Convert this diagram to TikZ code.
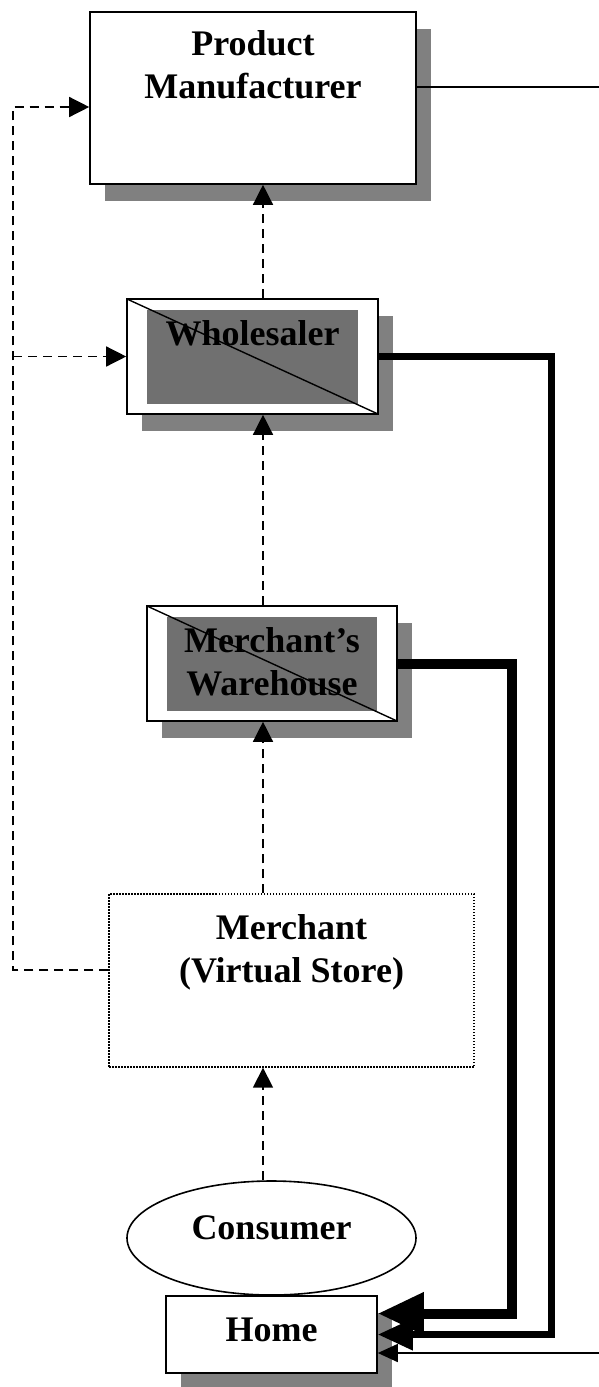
\documentclass[tikz,border=0pt]{standalone}
\usepackage{fontspec}
\setmainfont{Liberation Serif}
\usetikzlibrary{arrows.meta,shadows,shapes.geometric}

\definecolor{shadowgray}{gray}{0.5}
\definecolor{innergray}{gray}{0.44}

\tikzset{
  lbl/.style={font=\fontsize{36}{43}\selectfont\bfseries, align=center, inner sep=0pt},
  box/.style={draw, line width=1.6pt, fill=white, inner sep=0pt},
  shadowed/.style={drop shadow={shadow xshift=15pt, shadow yshift=-17pt, fill=shadowgray, opacity=1}},
  stockbox/.style={box, shadowed,
    path picture={
      \fill[innergray] ([shift={(20,11)}]path picture bounding box.north west)
        rectangle ([shift={(-20,-10)}]path picture bounding box.south east);
      \draw[line width=1.4pt] (path picture bounding box.north west)
        -- (path picture bounding box.south east);
    }},
  dashline/.style={line width=1.4pt, dash pattern=on 9pt off 6pt,
    -{Triangle[length=20pt,width=20pt]}},
  goodsline/.style={line width=#1, line join=miter},
}

\begin{document}
\begin{tikzpicture}[x=1pt,y=-1pt]
  \useasboundingbox (0,0) rectangle (599,1387);

  % boxes
  \node[box, shadowed, minimum width=326pt, minimum height=172pt,
    label={[lbl,name=manutxt,yshift=33pt]center:Product\\Manufacturer}] (manu) at (253,98) {};
  \node[stockbox, minimum width=251pt, minimum height=115pt,
    label={[lbl,name=wholetxt,yshift=23.5pt]center:Wholesaler}] (whole) at (252.5,356.5) {};
  \node[stockbox, minimum width=250pt, minimum height=115pt,
    label={[lbl,name=waretxt,yshift=2pt]center:Merchant’s\\Warehouse}] (ware) at (272,663.5) {};
  \node[draw, line width=1.3pt, dash pattern=on 1.5pt off 1.5pt, inner sep=0pt,
    minimum width=365pt, minimum height=173pt,
    label={[lbl,name=merchtxt,yshift=28pt]center:Merchant\\(Virtual Store)}] (merch) at (291.5,980.5) {};
  \node[ellipse, draw, line width=1.6pt, fill=white, inner sep=0pt,
    minimum width=289pt, minimum height=114pt,
    label={[lbl,name=constxt,yshift=10pt]center:Consumer}] (cons) at (271.5,1238) {};
  \node[box, shadowed, minimum width=211pt, minimum height=77pt,
    label={[lbl,name=hometxt,yshift=4.5pt]center:Home}] (home) at (271.5,1334.5) {};

  \coordinate (spine) at (263,0);
  \coordinate (lft) at (13,970);
  \coordinate (rail1) at (551,0);
  \coordinate (rail2) at (512,0);
  \coordinate (topout) at (599,87);
  \coordinate (botout) at (599,1353);
  \coordinate (homeup) at ([yshift=21pt]home.east);

  % information flow
  \draw[dashline] (cons.north -| spine) -- (merch.south -| spine);
  \draw[dashline] (merch.north -| spine) -- (ware.south -| spine);
  \draw[dashline] (ware.north -| spine) -- (whole.south -| spine);
  \draw[dashline] (whole.north -| spine) -- (manu.south -| spine);
  \draw[dashline] (merch.west |- lft) -- (lft) |- ([yshift=-9pt]manu.west);
  \draw[dashline] (lft |- whole.west) -- (whole.west);

  % goods flow
  \draw[goodsline=10pt, -{Triangle[length=46pt,width=40pt]}]
    (ware.east) -| (rail2 |- homeup) -- (homeup);
  \draw[goodsline=7pt, -{Triangle[length=35pt,width=30pt]}]
    (whole.east) -| (rail1 |- home.east) -- (home.east);
  \draw[goodsline=1.6pt] (manu.east |- topout) -- (topout);
  \draw[goodsline=1.6pt, -{Triangle[length=20pt,width=18pt]}]
    (botout) -- (botout -| home.east);
\end{tikzpicture}
\end{document}
